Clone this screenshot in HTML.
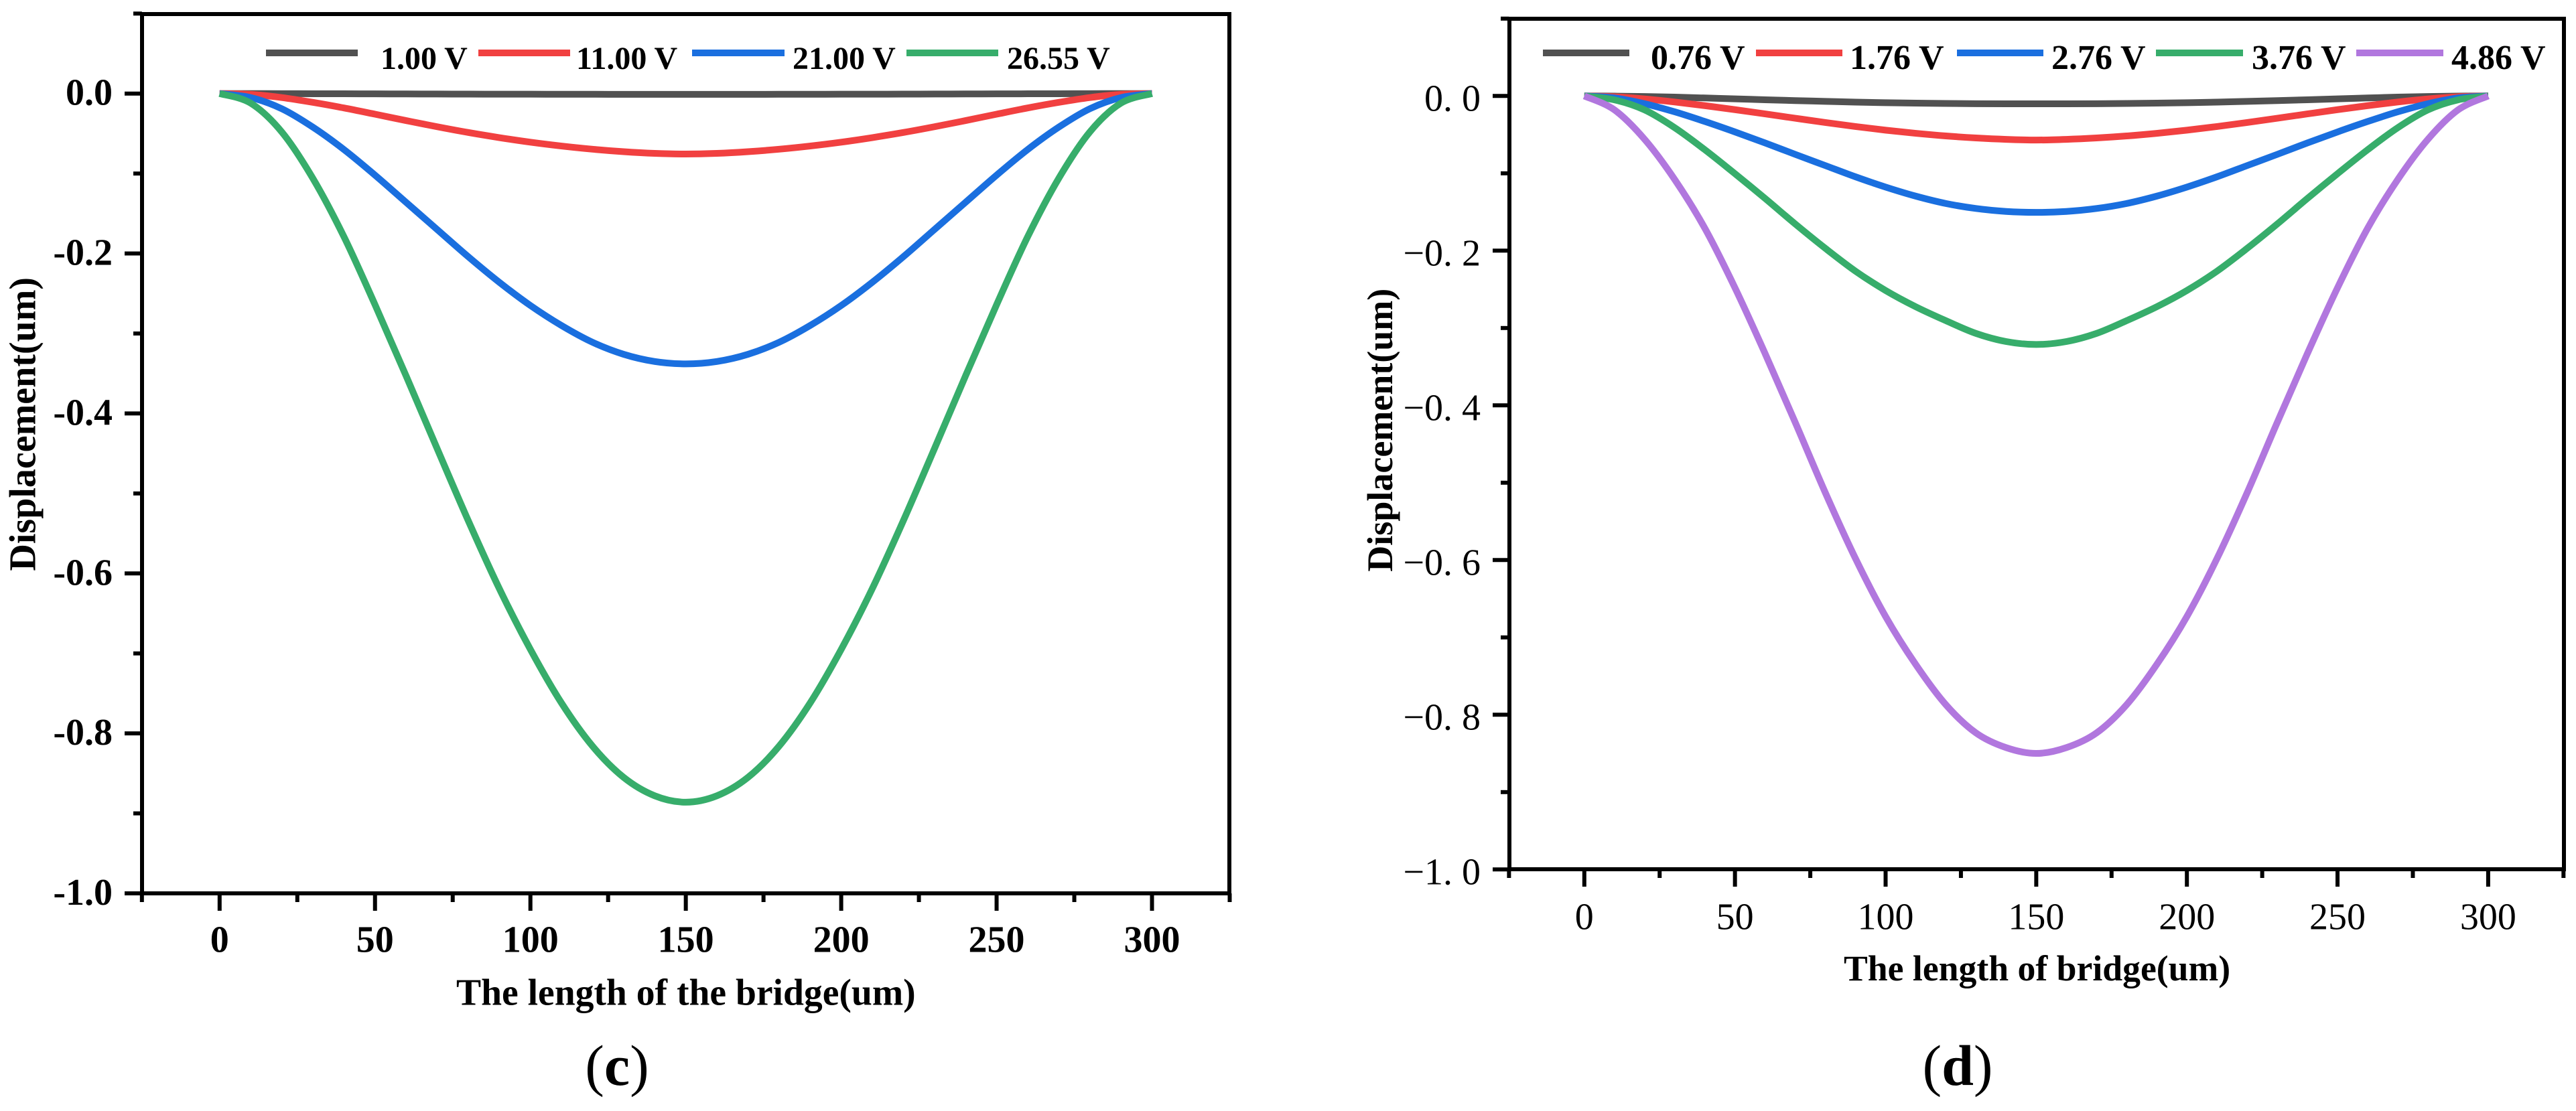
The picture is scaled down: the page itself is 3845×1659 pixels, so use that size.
<!DOCTYPE html>
<html lang="en">
<head>
<meta charset="utf-8">
<title>Bridge displacement charts</title>
<style>
html,body{margin:0;padding:0;background:#fff;}
svg{display:block;}
text{font-family:"Liberation Serif","Times New Roman",serif;fill:#000;}
.b{font-weight:bold;}
</style>
</head>
<body>
<svg id="figure" xmlns="http://www.w3.org/2000/svg" width="3845" height="1659" viewBox="0 0 3845 1659">
  <rect width="3845" height="1659" fill="#fff"/>

  <g id="panel-c">
    <g id="c-curves"></g>
    <rect x="212" y="21" width="1623" height="1313" fill="none" stroke="#000" stroke-width="6"/>
    <g id="c-ticks"></g>
    <text class="b" font-size="56" transform="translate(52.5,852.6) rotate(-90)">Displacement(um)</text>
    <text class="b" font-size="55.6" x="681" y="1500.5">The length of the bridge(um)</text>
    <g>
      <rect x="397" y="74" width="137" height="10" fill="#515151"/>
      <text class="b" font-size="48" x="568" y="103">1.00 V</text>
      <rect x="714" y="74" width="137" height="10" fill="#F14040"/>
      <text class="b" font-size="48" x="860" y="103">11.00 V</text>
      <rect x="1033" y="74" width="138" height="10" fill="#1A6FDF"/>
      <text class="b" font-size="48" x="1183" y="103">21.00 V</text>
      <rect x="1353" y="74" width="137" height="10" fill="#37AD6B"/>
      <text class="b" font-size="48" x="1503" y="103">26.55 V</text>
    </g>
    <text font-size="86" x="921" y="1620" text-anchor="middle">(<tspan class="b">c</tspan>)</text>
  </g>

  <g id="panel-d">
    <g id="d-curves"></g>
    <rect x="2253" y="28" width="1574" height="1270" fill="none" stroke="#000" stroke-width="6"/>
    <g id="d-ticks"></g>
    <text class="b" font-size="54" transform="translate(2078,853.7) rotate(-90)">Displacement(um)</text>
    <text class="b" font-size="53.7" x="2752" y="1464">The length of bridge(um)</text>
    <g>
      <rect x="2303" y="74" width="129" height="10" fill="#515151"/>
      <text class="b" font-size="52" x="2464" y="103">0.76 V</text>
      <rect x="2621" y="74" width="129" height="10" fill="#F14040"/>
      <text class="b" font-size="52" x="2761" y="103">1.76 V</text>
      <rect x="2921" y="74" width="129" height="10" fill="#1A6FDF"/>
      <text class="b" font-size="52" x="3062" y="103">2.76 V</text>
      <rect x="3218" y="74" width="130" height="10" fill="#37AD6B"/>
      <text class="b" font-size="52" x="3361" y="103">3.76 V</text>
      <rect x="3517" y="74" width="130" height="10" fill="#B177DE"/>
      <text class="b" font-size="52" x="3659" y="103">4.86 V</text>
    </g>
    <text font-size="86" x="2922" y="1620" text-anchor="middle">(<tspan class="b">d</tspan>)</text>
  </g>
</svg>

<script>
// ---- shared data ----
const bridgePositions = [0,10,20,30,40,50,60,70,80,90,100,110,120,130,140,150,160,170,180,190,200,210,220,230,240,250,260,270,280,290,300];
const xMajorTicks = [0,50,100,150,200,250,300];
const xMajorLabels = ["0","50","100","150","200","250","300"];
const xMinorTicks = [-25,25,75,125,175,225,275,325];
const yMajorTicks = [0,-0.2,-0.4,-0.6,-0.8,-1.0];
const yMinorTicks = [0.1,-0.1,-0.3,-0.5,-0.7,-0.9];
const seriesColors = ["#515151","#F14040","#1A6FDF","#37AD6B","#B177DE"];

// ---- panel (c) ----
const panelCYLabels = ["0.0","-0.2","-0.4","-0.6","-0.8","-1.0"];
const panelCVoltages = ["1.00 V","11.00 V","21.00 V","26.55 V"];
const c100V = [0,0,-0.0001,-0.0002,-0.0003,-0.0004,-0.0005,-0.0006,-0.0007,-0.0008,-0.0008,-0.0009,-0.0009,-0.001,-0.001,-0.001,-0.001,-0.001,-0.0009,-0.0009,-0.0008,-0.0008,-0.0007,-0.0006,-0.0005,-0.0004,-0.0003,-0.0002,-0.0001,0,0];
const c1100V = [0,-0.001,-0.005,-0.011,-0.018,-0.0258,-0.0338,-0.0415,-0.0487,-0.0551,-0.0608,-0.0656,-0.0696,-0.0727,-0.0748,-0.0756,-0.0748,-0.0727,-0.0696,-0.0656,-0.0608,-0.0551,-0.0487,-0.0415,-0.0338,-0.0258,-0.018,-0.011,-0.005,-0.001,0];
const c2100V = [0,-0.005,-0.019,-0.042,-0.07,-0.102,-0.136,-0.17,-0.204,-0.236,-0.265,-0.29,-0.311,-0.326,-0.335,-0.338,-0.335,-0.326,-0.311,-0.29,-0.265,-0.236,-0.204,-0.17,-0.136,-0.102,-0.07,-0.042,-0.019,-0.005,0];
const c2655V = [0,-0.012,-0.048,-0.106,-0.179,-0.264,-0.353,-0.444,-0.534,-0.619,-0.695,-0.762,-0.816,-0.855,-0.878,-0.886,-0.878,-0.855,-0.816,-0.762,-0.695,-0.619,-0.534,-0.444,-0.353,-0.264,-0.179,-0.106,-0.048,-0.012,0];

// ---- panel (d) ----
const panelDYLabels = ["0. 0","\u22120. 2","\u22120. 4","\u22120. 6","\u22120. 8","\u22121. 0"];
const panelDVoltages = ["0.76 V","1.76 V","2.76 V","3.76 V","4.86 V"];
const d076V = [0,-0.0002,-0.0007,-0.0015,-0.0026,-0.0037,-0.0049,-0.006,-0.007,-0.008,-0.0087,-0.0093,-0.0097,-0.01,-0.0101,-0.0101,-0.0101,-0.01,-0.0097,-0.0093,-0.0087,-0.008,-0.007,-0.006,-0.0049,-0.0037,-0.0026,-0.0015,-0.0007,-0.0002,0];
const d176V = [0,-0.001,-0.0038,-0.0078,-0.0125,-0.0177,-0.0232,-0.0288,-0.0343,-0.0395,-0.0442,-0.0483,-0.0517,-0.0543,-0.0561,-0.057,-0.0561,-0.0543,-0.0517,-0.0483,-0.0442,-0.0395,-0.0343,-0.0288,-0.0232,-0.0177,-0.0125,-0.0078,-0.0038,-0.001,0];
const d276V = [0,-0.0025,-0.01,-0.0205,-0.033,-0.0465,-0.0607,-0.0755,-0.09,-0.1045,-0.1178,-0.1295,-0.139,-0.1455,-0.1493,-0.1505,-0.1493,-0.1455,-0.139,-0.1295,-0.1178,-0.1045,-0.09,-0.0755,-0.0607,-0.0465,-0.033,-0.0205,-0.01,-0.0025,0];
const d376V = [0,-0.005,-0.018,-0.041,-0.0695,-0.1005,-0.1325,-0.1655,-0.197,-0.2265,-0.2515,-0.2725,-0.2905,-0.307,-0.3175,-0.3213,-0.3175,-0.307,-0.2905,-0.2725,-0.2515,-0.2265,-0.197,-0.1655,-0.1325,-0.1005,-0.0695,-0.041,-0.018,-0.005,0];
const d486V = [0,-0.018,-0.056,-0.108,-0.171,-0.248,-0.333,-0.422,-0.513,-0.598,-0.673,-0.735,-0.787,-0.8235,-0.8425,-0.85,-0.8425,-0.8235,-0.787,-0.735,-0.673,-0.598,-0.513,-0.422,-0.333,-0.248,-0.171,-0.108,-0.056,-0.018,0];

const SVG_NS = "http://www.w3.org/2000/svg";

function svgEl(tag, parent) {
  const el = document.createElementNS(SVG_NS, tag);
  parent.appendChild(el);
  return el;
}

function curvePath(xs, ys, xScale, yScale) {
  const pts = xs.map((x, i) => [xScale(x), yScale(ys[i])]);
  let d = "M" + pts[0][0].toFixed(2) + " " + pts[0][1].toFixed(2);
  for (let i = 0; i < pts.length - 1; i++) {
    const p0 = pts[Math.max(i - 1, 0)];
    const p1 = pts[i];
    const p2 = pts[i + 1];
    const p3 = pts[Math.min(i + 2, pts.length - 1)];
    const c1x = p1[0] + (p2[0] - p0[0]) / 6;
    const c1y = p1[1] + (p2[1] - p0[1]) / 6;
    const c2x = p2[0] - (p3[0] - p1[0]) / 6;
    const c2y = p2[1] - (p3[1] - p1[1]) / 6;
    d += "C" + c1x.toFixed(2) + " " + c1y.toFixed(2) + " " + c2x.toFixed(2) + " " + c2y.toFixed(2) + " " + p2[0].toFixed(2) + " " + p2[1].toFixed(2);
  }
  return d;
}

function drawPanel(prefix, opts, series, voltages, yLabels) {
  const xScale = v => opts.x0 + v * opts.sx;
  const yScale = v => opts.y0 - v * opts.sy;
  const curves = document.getElementById(prefix + "-curves");
  const ticks = document.getElementById(prefix + "-ticks");

  series.forEach((values, i) => {
    const path = svgEl("path", curves);
    
    
    path.setAttribute("d", curvePath(bridgePositions, values, xScale, yScale));
    path.setAttribute("fill", "none");
    path.setAttribute("stroke", seriesColors[i]);
    path.setAttribute("stroke-width", "10");
    path.setAttribute("stroke-linejoin", "round");
  });

  function tick(x1, y1, x2, y2, w) {
    const line = svgEl("line", ticks);
    
    
    line.setAttribute("x1", x1);
    line.setAttribute("y1", y1);
    line.setAttribute("x2", x2);
    line.setAttribute("y2", y2);
    line.setAttribute("stroke", "#000");
    line.setAttribute("stroke-width", w);
  }

  function label(str, x, y, anchor) {
    const t = svgEl("text", ticks);
    
    
    t.setAttribute("x", x);
    t.setAttribute("y", y);
    t.setAttribute("text-anchor", anchor);
    t.setAttribute("font-size", "56");
    if (opts.bold) t.setAttribute("font-weight", "bold");
    t.textContent = str;
  }

  xMajorTicks.forEach((v, i) => {
    tick(xScale(v), opts.y0 + opts.sy, xScale(v), opts.xMajorEnd, 6);
    label(xMajorLabels[i], xScale(v), opts.xLabelBase, "middle");
  });
  xMinorTicks.forEach(v => {
    tick(xScale(v), opts.y0 + opts.sy, xScale(v), opts.xMinorEnd, 6);
  });
  yMajorTicks.forEach((v, i) => {
    tick(opts.x0 + opts.sx * -25, yScale(v), opts.yMajorEnd, yScale(v), 6);
    label(yLabels[i], opts.yLabelRight, yScale(v) + opts.yLabelDy, "end");
  });
  yMinorTicks.forEach(v => {
    tick(opts.x0 + opts.sx * -25, yScale(v), opts.yMinorEnd, yScale(v), 6);
  });
}

drawPanel("c", {
  x0: 327.8, sx: 4.639, y0: 139.7, sy: 1194.3,
  xMajorEnd: 1360, xMinorEnd: 1347, xLabelBase: 1421.5,
  yMajorEnd: 186, yMinorEnd: 199, yLabelRight: 168, yLabelDy: 17, bold: true
}, [c100V, c1100V, c2100V, c2655V], panelCVoltages, panelCYLabels);

drawPanel("d", {
  x0: 2364.8, sx: 4.497, y0: 143.3, sy: 1155,
  xMajorEnd: 1324, xMinorEnd: 1311, xLabelBase: 1387.3,
  yMajorEnd: 2228, yMinorEnd: 2240, yLabelRight: 2210, yLabelDy: 22, bold: false
}, [d076V, d176V, d276V, d376V, d486V], panelDVoltages, panelDYLabels);
</script>
</body>
</html>
